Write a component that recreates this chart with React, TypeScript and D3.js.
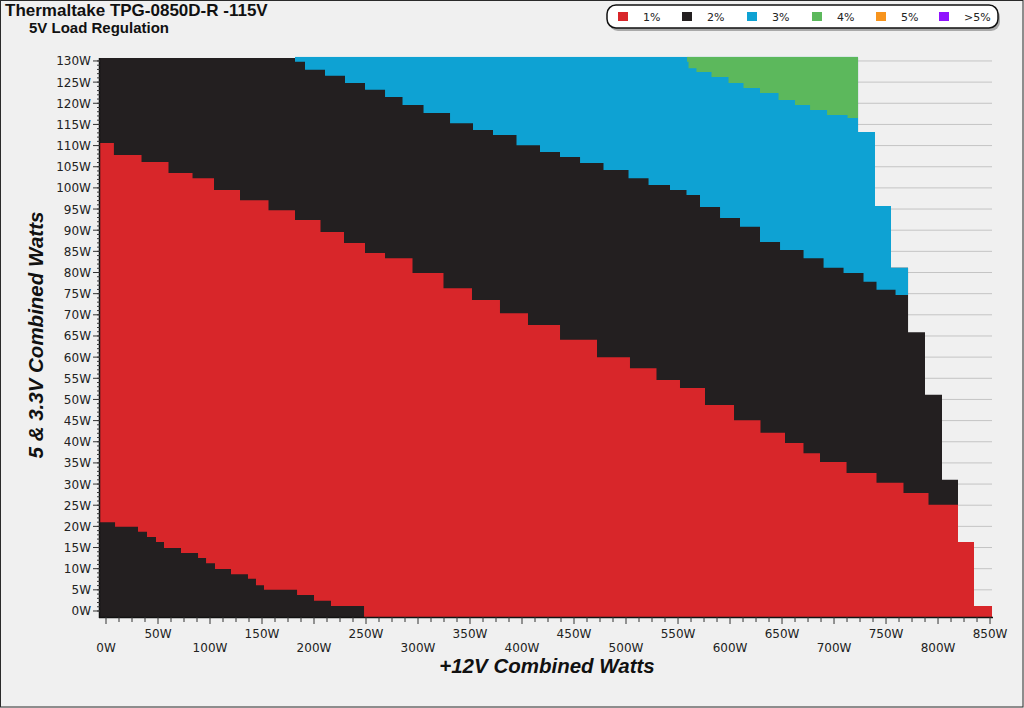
import React from 'react';
import * as d3 from 'd3';

// ---- data (watts) ----
const titleText = 'Thermaltake TPG-0850D-R -115V';
const subtitleText = '5V Load Regulation';
const xAxisTitle = '+12V Combined Watts';
const yAxisTitle = '5 & 3.3V Combined Watts';

const legendLabels = ['1%', '2%', '3%', '4%', '5%', '>5%'];
const legendColors = ['#d8262a', '#231f20', '#0ea2d3', '#5cb85c', '#f7941d', '#9013fe'];

// outer envelope: [12V load start, max 5V load] (step after)
const envelopeSteps: [number, number][] = [
  [-6, 131], [723.1, 113.2], [739.4, 95.7], [754.8, 81.1], [771.2, 65.9],
  [787.5, 51.1], [803.8, 31.0], [819.2, 16.3], [834.6, 1.2], [852, 1.2],
];

// 1% / 2% boundary (upper edge of the red zone)
const redUpper: [number, number][] = [
  [-6, 110.6], [21.2, 107.8], [47.1, 106.1], [73.1, 103.5], [93.3, 102.3], [114.4, 99.5],
  [143.3, 97.1], [169.2, 94.7], [194.2, 92.4], [218.3, 89.6], [239.4, 87.0], [258.7, 84.6],
  [277.9, 83.4], [311.5, 79.9], [337.5, 76.3], [366.3, 73.5], [391.3, 70.4], [420.2, 67.6],
  [452.9, 64.1], [491.3, 60.0], [516.3, 57.4], [542.3, 54.6], [561.5, 52.7], [590.4, 48.7],
  [617.3, 45.1], [641.3, 42.1], [664.4, 39.7], [676.9, 37.3], [696.2, 35.2], [727.9, 32.6],
  [753.8, 30.3], [779.8, 27.9], [801.9, 25.1], [852, 25.1],
];

// 2% / 3% boundary (lower edge of the blue zone)
const blueLower: [number, number][] = [
  [181.7, 129.8], [201, 127.9], [220.2, 126.5], [239.4, 124.8], [258.7, 123.2], [277.9, 121.5],
  [292.3, 119.6], [318.3, 117.7], [343.3, 115.3], [362.5, 113.7], [381.7, 112.5], [407.7, 110.1],
  [426.9, 108.5], [446.2, 107.3], [465.4, 105.9], [491.3, 104.2], [513.5, 102.3], [529.8, 100.7],
  [554.8, 99.5], [561.5, 98.3], [580.8, 95.5], [600, 92.9], [619.2, 90.8], [638.5, 87.2],
  [657.7, 85.3], [683.7, 83.4], [696.2, 81.1], [722.1, 79.9], [734.6, 77.8], [747.1, 75.9],
  [771.2, 74.7],
];

// 3% / 4% boundary (lower edge of the green zone)
const greenLower: [number, number][] = [
  [558.7, 129.8], [561.5, 128.3], [574, 127.4], [590.4, 126.2], [606.7, 124.8], [619.2, 123.6],
  [638.5, 122.4], [654.8, 120.8], [670.2, 119.6], [683.7, 118.4], [702.9, 117.2], [723.1, 116.5],
];

// 2% zone at low loads (upper edge, step after)
const lowBlack: [number, number][] = [
  [-6, 21.0], [8.7, 19.9], [30.8, 18.7], [39.4, 17.5], [48.1, 16.3], [55.8, 14.9], [72.1, 13.7],
  [88.5, 12.5], [96.2, 11.3], [104.8, 9.9], [120.2, 8.7], [136.5, 7.6], [144.2, 6.1], [151.9, 5.0],
  [183.7, 3.8], [200, 2.4], [216.3, 1.2], [248.1, -2], [852, -2],
];

const yTicks = d3.range(0, 131, 5);
const yMinor = d3.range(0, 131, 1);
const xTicks = d3.range(0, 851, 50);
const xMinor = d3.range(0, 851, 12.5);

const W = 1024;
const H = 708;
const P = { left: 100, right: 992, top: 58, bottom: 617 };

export default function App() {
  const x = d3.scaleLinear().domain([-5.77, 851.9]).range([P.left, P.right]);
  const y = d3.scaleLinear().domain([-1.42, 130.7]).range([P.bottom, P.top]);
  const yBottom = -1.42;
  const yTop = 131;

  const envArea = d3.area<[number, number]>()
    .x(d => x(d[0])).y0(y(yBottom)).y1(d => y(d[1])).curve(d3.curveStepAfter);
  const topArea = d3.area<[number, number]>()
    .x(d => x(d[0])).y0(d => y(d[1])).y1(y(yTop)).curve(d3.curveStep);
  const bottomArea = d3.area<[number, number]>()
    .x(d => x(d[0])).y0(y(yBottom)).y1(d => y(d[1])).curve(d3.curveStep);
  const bottomStepAfter = d3.area<[number, number]>()
    .x(d => x(d[0])).y0(y(yBottom)).y1(d => y(d[1])).curve(d3.curveStepAfter);

  const tickFont = '"DejaVu Sans", Verdana, sans-serif';
  const boldFont = '"Liberation Sans", Arial, sans-serif';

  const legendX = [618, 682, 747, 812, 876, 939];

  return (
    <svg width={W} height={H} style={{ position: 'absolute', left: 0, top: 0 }}
      xmlns="http://www.w3.org/2000/svg">
      <defs>
        <clipPath id="env">
          <path d={envArea(envelopeSteps) || ''} />
        </clipPath>
      </defs>
      <rect x={0} y={0} width={W} height={H} fill="#f0f0f0" />
      <rect x={0.5} y={0.5} width={W - 1.5} height={H - 1.5} fill="none" stroke="#2a2a2a" strokeWidth={1} />

      {/* titles */}
      <text x={5} y={15.5} fontFamily={boldFont} fontWeight="bold" fontSize={17} fill="#111">{titleText}</text>
      <text x={29} y={33} fontFamily={boldFont} fontWeight="bold" fontSize={15} fill="#111">{subtitleText}</text>

      {/* legend */}
      <rect x={609} y={8} width={391} height={23} rx={9} fill="#8a8a8a" opacity={0.7} />
      <rect x={607} y={5} width={391} height={23} rx={9} fill="#ffffff" stroke="#111" strokeWidth={1.5} />
      {legendLabels.map((l, i) => (
        <g key={l}>
          <rect x={legendX[i]} y={12} width={10} height={9} fill={legendColors[i]} />
          <text x={legendX[i] + 25} y={21} fontFamily={tickFont} fontSize={11} fill="#222">{l}</text>
        </g>
      ))}

      {/* grid */}
      {yTicks.map(t => (
        <line key={'g' + t} x1={P.left} x2={P.right} y1={y(t)} y2={y(t)} stroke="#c4c4c4" strokeWidth={1} />
      ))}

      {/* regulation zones */}
      <g clipPath="url(#env)">
        <rect x={P.left} y={P.top} width={P.right - P.left} height={P.bottom - P.top} fill={legendColors[1]} />
        <path d={topArea(blueLower) || ''} fill={legendColors[2]} />
        <path d={topArea(greenLower) || ''} fill={legendColors[3]} />
        <path d={bottomArea(redUpper) || ''} fill={legendColors[0]} />
        <path d={bottomStepAfter(lowBlack) || ''} fill={legendColors[1]} />
      </g>

      {/* y axis */}
      <line x1={P.left - 0.5} x2={P.left - 0.5} y1={P.top} y2={P.bottom + 1} stroke="#111" strokeWidth={1.5} />
      {yMinor.map(t => (
        <line key={'ym' + t} x1={P.left - 3} x2={P.left} y1={y(t)} y2={y(t)} stroke="#333" strokeWidth={1} />
      ))}
      {yTicks.map(t => (
        <g key={'yt' + t}>
          <line x1={P.left - 7} x2={P.left} y1={y(t)} y2={y(t)} stroke="#333" strokeWidth={1} />
          <text x={P.left - 9} y={y(t) + 4.5} textAnchor="end" fontFamily={tickFont} fontSize={12} fill="#222">{`${t}W`}</text>
        </g>
      ))}

      {/* x axis */}
      <line x1={P.left - 1} x2={P.right + 1} y1={P.bottom + 0.5} y2={P.bottom + 0.5} stroke="#111" strokeWidth={1.5} />
      {xMinor.map(t => (
        <line key={'xm' + t} x1={x(t)} x2={x(t)} y1={P.bottom} y2={P.bottom + (t % 50 === 0 ? 7 : 5)} stroke="#333" strokeWidth={1} />
      ))}
      {xTicks.map((t, i) => (
        <text key={'xt' + t} x={x(t)} y={i % 2 === 0 ? 652 : 638} textAnchor="middle"
          fontFamily={tickFont} fontSize={12} fill="#222">{`${t}W`}</text>
      ))}

      {/* axis titles */}
      <text x={547} y={673} textAnchor="middle" fontFamily={boldFont} fontWeight="bold" fontStyle="italic"
        fontSize={20.5} fill="#111">{xAxisTitle}</text>
      <text transform={`translate(43, ${335}) rotate(-90)`} textAnchor="middle" fontFamily={boldFont}
        fontWeight="bold" fontStyle="italic" fontSize={20.5} fill="#111">{yAxisTitle}</text>
    </svg>
  );
}
